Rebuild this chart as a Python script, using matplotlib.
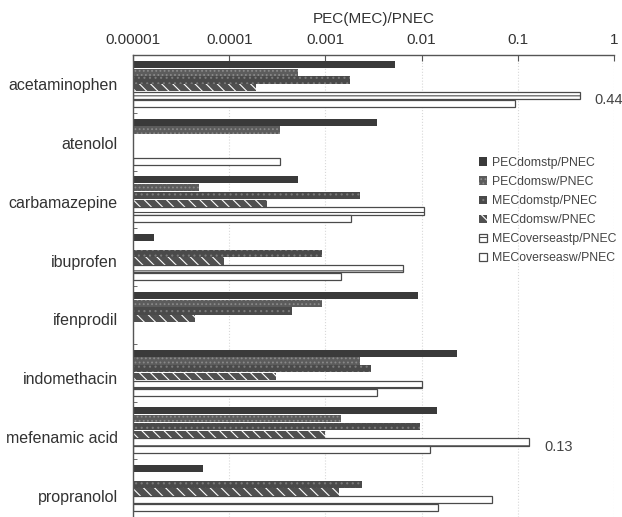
import numpy as np
import matplotlib
matplotlib.use("Agg")
import matplotlib.pyplot as plt
from matplotlib.ticker import FixedLocator, FixedFormatter

plt.rcParams['font.family'] = ['Liberation Sans', 'DejaVu Sans']
plt.rcParams['hatch.linewidth'] = 0.8

nan = np.nan

drugs = ["acetaminophen", "atenolol", "carbamazepine", "ibuprofen",
         "ifenprodil", "indomethacin", "mefenamic acid", "propranolol"]

series = ["PECdomstp/PNEC", "PECdomsw/PNEC", "MECdomstp/PNEC",
          "MECdomsw/PNEC", "MECoverseastp/PNEC", "MECoverseasw/PNEC"]

pec_domstp = [5.3e-3, 3.4e-3, 5.2e-4, 1.65e-5, 9.2e-3, 2.34e-2, 1.45e-2, 5.4e-5]
pec_domsw = [5.2e-4, 3.4e-4, 4.9e-5, nan, 9.2e-4, 2.3e-3, 1.45e-3, nan]
mec_domstp = [1.8e-3, nan, 2.3e-3, 9.2e-4, 4.5e-4, 3.0e-3, 9.6e-3, 2.4e-3]
mec_domsw = [1.9e-4, nan, 2.5e-4, 8.8e-5, 4.4e-5, 3.1e-4, 1.0e-3, 1.4e-3]
mec_overseastp = [0.44, nan, 1.06e-2, 6.4e-3, nan, 1.0e-2, 0.13, 5.4e-2]
mec_overseasw = [9.3e-2, 3.4e-4, 1.85e-3, 1.45e-3, nan, 3.4e-3, 1.23e-2, 1.48e-2]

values = [pec_domstp, pec_domsw, mec_domstp, mec_domsw, mec_overseastp, mec_overseasw]

xticks = [1e-5, 1e-4, 1e-3, 1e-2, 1e-1, 1]
xtick_labels = ["0.00001", "0.0001", "0.001", "0.01", "0.1", "1"]

# label text, x position, drug index, series index
callouts = [("0.44", 0.63, 0, 4), ("0.13", 0.19, 6, 4)]

styles = [
    dict(facecolor="#3a3a3a", edgecolor="#3a3a3a", hatch=None),
    dict(facecolor="#5c5c5c", edgecolor="#8a8a8a", hatch="...."),
    dict(facecolor="#4a4a4a", edgecolor="#7a7a7a", hatch="..."),
    dict(facecolor="#505050", edgecolor="white", hatch="\\\\\\"),
    dict(facecolor="white", edgecolor="#4a4a4a", hatch="--"),
    dict(facecolor="white", edgecolor="#4a4a4a", hatch=None),
]

fig = plt.figure(figsize=(6.22, 5.17), dpi=100)
ax = fig.add_axes([133 / 622, 0, 481 / 622, 462 / 517])

base = 1e-5
step = 0.135
h = 0.125
y = np.arange(len(drugs))

for j, (name, vals, st) in enumerate(zip(series, values, styles)):
    vals = np.asarray(vals, dtype=float)
    pos = y + (j - 2.5) * step
    ax.barh(pos, vals - base, left=base, height=h, label=name,
            linewidth=0.9 if st["facecolor"] == "white" else 0, **st)

ax.set_xscale("log")
ax.set_xlim(1e-5, 1)
ax.set_ylim(7.32, -0.5)

ax.xaxis.tick_top()
ax.xaxis.set_label_position("top")
ax.xaxis.set_major_locator(FixedLocator(xticks))
ax.xaxis.set_major_formatter(FixedFormatter(xtick_labels))
ax.xaxis.set_minor_locator(FixedLocator([]))
ax.tick_params(axis="x", direction="in", length=4, color="#555",
               labelsize=11, labelcolor="#333", pad=6)
ax.set_xlabel("PEC(MEC)/PNEC", fontsize=11, color="#333", labelpad=7)
ax.grid(axis="x", color="#d8d8d8", linestyle=":", linewidth=0.8)
ax.set_axisbelow(True)

# category labels sit slightly lower than the bar groups, as in the scan
ax.set_yticks(y + 0.02 * y)
ax.set_yticklabels(drugs)
ax.set_yticks(y + 0.5, minor=True)
ax.tick_params(axis="y", which="major", length=0, labelsize=11.5,
               labelcolor="#333", pad=11)
ax.tick_params(axis="y", which="minor", direction="in", length=3, color="#555")

for side in ["right", "bottom"]:
    ax.spines[side].set_visible(False)
for side in ["left", "top"]:
    ax.spines[side].set_color("#555")
    ax.spines[side].set_linewidth(1)

for txt, xv, gi, sj in callouts:
    ax.text(xv, y[gi] + (sj - 2.5) * step + 0.08, txt, va="center", ha="left",
            fontsize=10.5, color="#444", clip_on=False)

leg = fig.legend(loc="upper left", bbox_to_anchor=(474 / 622, 1 - 152 / 517),
                 frameon=False, fontsize=8.8, handlelength=0.7, handleheight=0.7,
                 handletextpad=0.35, labelspacing=0.58, borderaxespad=0)
for t in leg.get_texts():
    t.set_color("#444")

fig.savefig("out.png", dpi=100)
